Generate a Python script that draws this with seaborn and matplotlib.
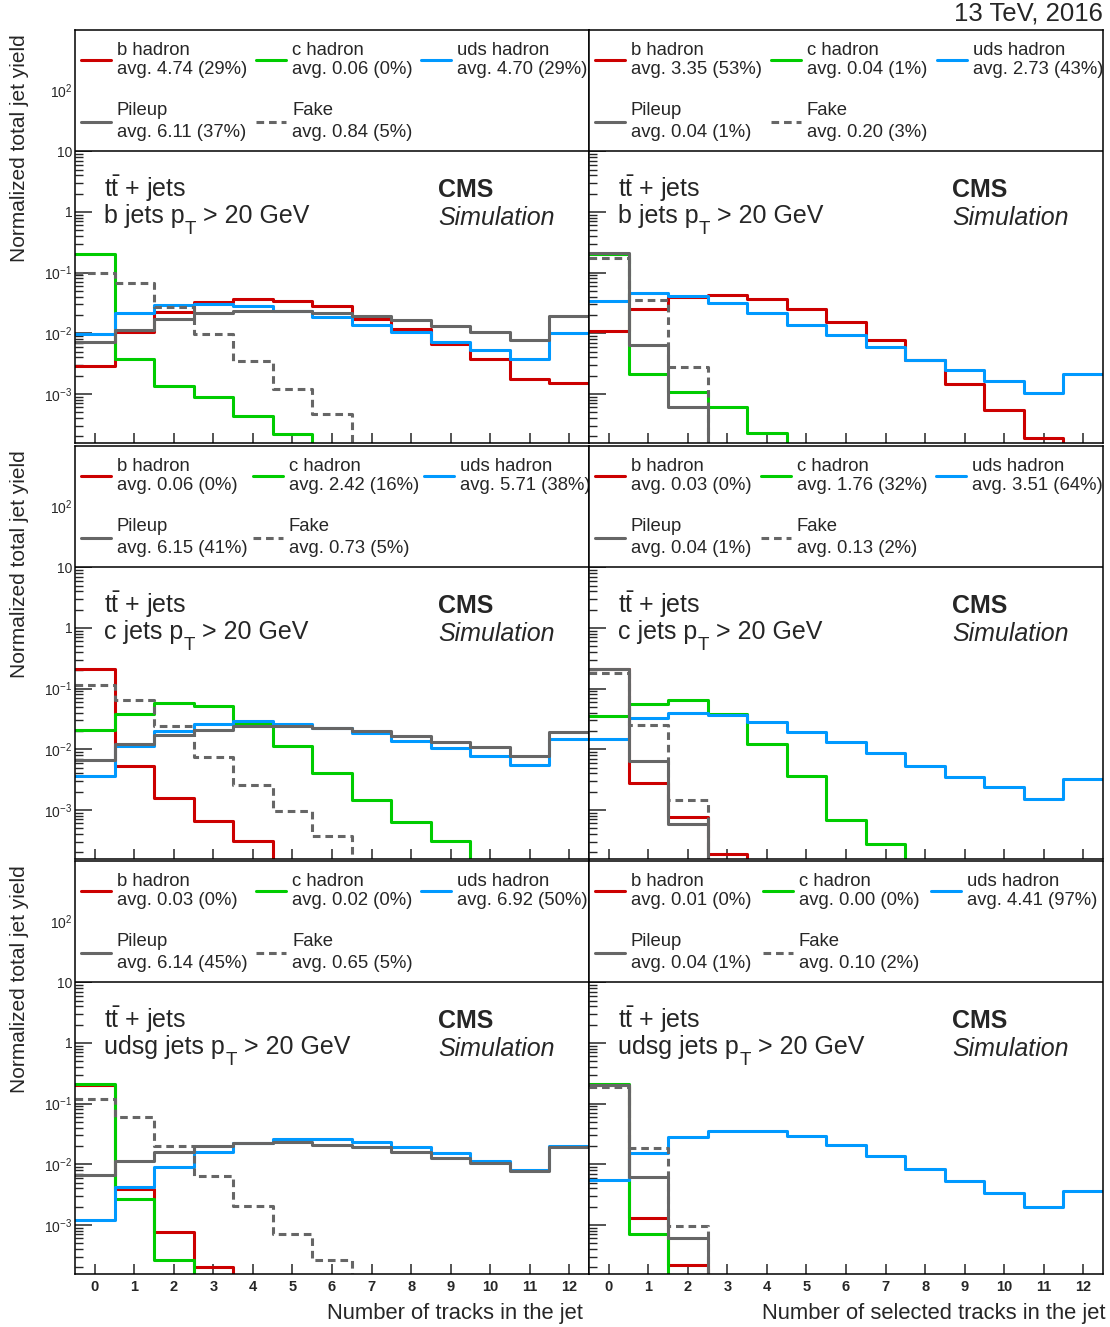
import numpy as np
import pandas as pd
import seaborn as sns
import matplotlib.pyplot as plt
from matplotlib.ticker import FixedLocator, LogLocator, NullFormatter, FuncFormatter

sns.set_theme(style="ticks")
plt.rcParams['font.family'] = ['Liberation Sans', 'DejaVu Sans']
plt.rcParams['mathtext.fontset'] = 'custom'
plt.rcParams['mathtext.rm'] = 'Liberation Sans'
plt.rcParams['mathtext.it'] = 'Liberation Sans:italic'
plt.rcParams['mathtext.bf'] = 'Liberation Sans:bold'

n_tracks = list(range(13))
bin_edges = [i - 0.5 for i in range(14)]

# ---- b jets, all tracks
bjet_all_b = [2.9e-3, 0.0106, 0.0221, 0.0322, 0.0366, 0.0339, 0.028, 0.0172, 0.0118, 6.7e-3, 3.7e-3, 1.78e-3, 1.51e-3]
bjet_all_c = [0.2, 3.8e-3, 1.35e-3, 8.9e-4, 4.4e-4, 2.2e-4, 0, 0, 0, 0, 0, 0, 0]
bjet_all_uds = [9.8e-3, 0.0215, 0.0295, 0.0299, 0.0284, 0.0232, 0.0183, 0.0139, 0.0104, 7.3e-3, 5.2e-3, 3.8e-3, 0.01]
bjet_all_pu = [7.1e-3, 0.0114, 0.0172, 0.0213, 0.023, 0.0236, 0.0216, 0.019, 0.0163, 0.0134, 0.0105, 7.8e-3, 0.019]
bjet_all_fake = [0.1, 0.0686, 0.0267, 9.8e-3, 3.5e-3, 1.22e-3, 4.6e-4, 0, 0, 0, 0, 0, 0]
bjet_all_avg = ["avg. 4.74 (29%)", "avg. 0.06 (0%)", "avg. 4.70 (29%)", "avg. 6.11 (37%)", "avg. 0.84 (5%)"]

# ---- b jets, selected tracks
bjet_sel_b = [0.011, 0.0251, 0.0389, 0.043, 0.0366, 0.0251, 0.0155, 7.6e-3, 3.66e-3, 1.44e-3, 5.5e-4, 1.85e-4, 0]
bjet_sel_c = [0.205, 2.13e-3, 1.08e-3, 6.1e-4, 2.24e-4, 0, 0, 0, 0, 0, 0, 0, 0]
bjet_sel_uds = [0.0335, 0.0458, 0.041, 0.031, 0.0213, 0.0137, 9.2e-3, 5.9e-3, 3.66e-3, 2.5e-3, 1.63e-3, 1.04e-3, 2.1e-3]
bjet_sel_pu = [0.207, 6.3e-3, 6.1e-4, 0, 0, 0, 0, 0, 0, 0, 0, 0, 0]
bjet_sel_fake = [0.172, 0.0356, 2.77e-3, 0, 0, 0, 0, 0, 0, 0, 0, 0, 0]
bjet_sel_avg = ["avg. 3.35 (53%)", "avg. 0.04 (1%)", "avg. 2.73 (43%)", "avg. 0.04 (1%)", "avg. 0.20 (3%)"]

# ---- c jets, all tracks
cjet_all_b = [0.209, 5.2e-3, 1.6e-3, 6.6e-4, 3.1e-4, 0, 0, 0, 0, 0, 0, 0, 0]
cjet_all_c = [0.0209, 0.0385, 0.0578, 0.0516, 0.0257, 0.0115, 4.05e-3, 1.45e-3, 6.2e-4, 3.06e-4, 0, 0, 0]
cjet_all_uds = [3.66e-3, 0.0115, 0.0199, 0.0263, 0.0288, 0.0263, 0.0223, 0.0187, 0.0139, 0.0104, 7.85e-3, 5.4e-3, 0.0145]
cjet_all_pu = [6.65e-3, 0.0122, 0.0173, 0.0204, 0.0238, 0.0238, 0.0223, 0.0199, 0.0164, 0.0134, 0.0108, 7.85e-3, 0.0191]
cjet_all_fake = [0.116, 0.064, 0.024, 7.55e-3, 2.6e-3, 9.6e-4, 3.7e-4, 0, 0, 0, 0, 0, 0]
cjet_all_avg = ["avg. 0.06 (0%)", "avg. 2.42 (16%)", "avg. 5.71 (38%)", "avg. 6.15 (41%)", "avg. 0.73 (5%)"]

# ---- c jets, selected tracks
cjet_sel_b = [0.214, 2.73e-3, 7.5e-4, 1.84e-4, 0, 0, 0, 0, 0, 0, 0, 0, 0]
cjet_sel_c = [0.0356, 0.0564, 0.064, 0.038, 0.0124, 3.57e-3, 6.8e-4, 2.77e-4, 0, 0, 0, 0, 0]
cjet_sel_uds = [0.0148, 0.033, 0.04, 0.037, 0.0284, 0.0194, 0.0134, 8.6e-3, 5.36e-3, 3.43e-3, 2.35e-3, 1.54e-3, 3.22e-3]
cjet_sel_pu = [0.214, 6.3e-3, 5.8e-4, 0, 0, 0, 0, 0, 0, 0, 0, 0, 0]
cjet_sel_fake = [0.184, 0.025, 1.45e-3, 0, 0, 0, 0, 0, 0, 0, 0, 0, 0]
cjet_sel_avg = ["avg. 0.03 (0%)", "avg. 1.76 (32%)", "avg. 3.51 (64%)", "avg. 0.04 (1%)", "avg. 0.13 (2%)"]

# ---- udsg jets, all tracks
ljet_all_b = [0.2, 3.85e-3, 7.65e-4, 2.0e-4, 0, 0, 0, 0, 0, 0, 0, 0, 0]
ljet_all_c = [0.207, 2.66e-3, 2.6e-4, 0, 0, 0, 0, 0, 0, 0, 0, 0, 0]
ljet_all_uds = [1.19e-3, 4.16e-3, 9.15e-3, 0.0158, 0.0223, 0.0259, 0.0263, 0.0232, 0.0194, 0.0152, 0.0111, 7.96e-3, 0.0201]
ljet_all_pu = [6.65e-3, 0.0114, 0.0162, 0.0201, 0.0223, 0.0229, 0.0209, 0.0189, 0.0158, 0.0129, 0.0103, 7.85e-3, 0.0189]
ljet_all_fake = [0.119, 0.0593, 0.0201, 6.4e-3, 2.07e-3, 7.2e-4, 2.6e-4, 0, 0, 0, 0, 0, 0]
ljet_all_avg = ["avg. 0.03 (0%)", "avg. 0.02 (0%)", "avg. 6.92 (50%)", "avg. 6.14 (45%)", "avg. 0.65 (5%)"]

# ---- udsg jets, selected tracks
ljet_sel_b = [0.2, 1.31e-3, 2.2e-4, 0, 0, 0, 0, 0, 0, 0, 0, 0, 0]
ljet_sel_c = [0.207, 7.0e-4, 0, 0, 0, 0, 0, 0, 0, 0, 0, 0, 0]
ljet_sel_uds = [5.5e-3, 0.0156, 0.0284, 0.0356, 0.0356, 0.0288, 0.0204, 0.0137, 8.4e-3, 5.2e-3, 3.3e-3, 1.94e-3, 3.66e-3]
ljet_sel_pu = [0.2, 6.25e-3, 6.1e-4, 0, 0, 0, 0, 0, 0, 0, 0, 0, 0]
ljet_sel_fake = [0.187, 0.0184, 9.6e-4, 0, 0, 0, 0, 0, 0, 0, 0, 0, 0]
ljet_sel_avg = ["avg. 0.01 (0%)", "avg. 0.00 (0%)", "avg. 4.41 (97%)", "avg. 0.04 (1%)", "avg. 0.10 (2%)"]

sources = ["b hadron", "c hadron", "uds hadron", "Pileup", "Fake"]
colors = ["#cc0000", "#00cc00", "#0099ff", "#666666", "#666666"]

panels = [
    (0, 0, "b", [bjet_all_b, bjet_all_c, bjet_all_uds, bjet_all_pu, bjet_all_fake], bjet_all_avg, [42, 217, 382]),
    (0, 1, "b", [bjet_sel_b, bjet_sel_c, bjet_sel_uds, bjet_sel_pu, bjet_sel_fake], bjet_sel_avg, [42, 218, 384]),
    (1, 0, "c", [cjet_all_b, cjet_all_c, cjet_all_uds, cjet_all_pu, cjet_all_fake], cjet_all_avg, [42, 214, 385]),
    (1, 1, "c", [cjet_sel_b, cjet_sel_c, cjet_sel_uds, cjet_sel_pu, cjet_sel_fake], cjet_sel_avg, [42, 208, 383]),
    (2, 0, "udsg", [ljet_all_b, ljet_all_c, ljet_all_uds, ljet_all_pu, ljet_all_fake], ljet_all_avg, [42, 217, 382]),
    (2, 1, "udsg", [ljet_sel_b, ljet_sel_c, ljet_sel_uds, ljet_sel_pu, ljet_sel_fake], ljet_sel_avg, [42, 210, 378]),
]

W, H = 1110, 1327
fig = plt.figure(figsize=(W / 100, H / 100), dpi=100)
row_tops = [30, 446, 861]
col_lefts = [75, 589]
pw, ph = 514, 413
ylo, yhi = 1.55e-4, 1000


def ylab(v, pos):
    e = int(round(np.log10(v)))
    if e == 0:
        return "1"
    if e == 1:
        return "10"
    return r"$10^{%d}$" % e


for row, col, flav, series, avgs, colx in panels:
    x0, y0 = col_lefts[col], row_tops[row]
    ax = fig.add_axes([x0 / W, 1 - (y0 + ph) / H, pw / W, ph / H])
    ax.set_facecolor("white")

    for vals, c, name in zip(series, colors, sources):
        df = pd.DataFrame({"ntrk": n_tracks, "yield": vals})
        kw = dict(color=c, linewidth=2.2)
        if name == "Fake":
            kw["dashes"] = (2.5, 1.6)
        sns.histplot(data=df, x="ntrk", weights="yield", bins=bin_edges, element="step",
                     fill=False, ax=ax, **kw)

    ax.set_yscale("log")
    ax.set_ylim(ylo, yhi)
    ax.set_xlim(-0.5, 12.5)
    ax.set_xlabel("")
    ax.set_ylabel("")

    ax.yaxis.set_major_locator(FixedLocator([1e-3, 1e-2, 1e-1, 1, 10, 100]))
    ax.yaxis.set_minor_locator(LogLocator(base=10, subs=np.arange(2, 10), numticks=20))
    ax.yaxis.set_minor_formatter(NullFormatter())
    ax.yaxis.set_major_formatter(FuncFormatter(ylab))
    ax.set_xticks(n_tracks)
    ax.tick_params(axis="y", which="major", direction="in", length=12.5, width=1.1,
                   labelsize=10, pad=2, left=True, right=False, labelleft=(col == 0))
    ax.tick_params(axis="y", which="minor", direction="in", length=6, width=1.0)
    ax.tick_params(axis="x", which="major", direction="in", length=7, width=1.1,
                   labelsize=10.5, pad=4, labelbottom=(row == 2), top=False)
    for lab in ax.get_xticklabels():
        lab.set_fontweight("bold")
        lab.set_family(["Liberation Sans Narrow", "Liberation Sans"])
    ax.xaxis.set_minor_locator(FixedLocator([]))
    for s in ax.spines.values():
        s.set_visible(True)
        s.set_color("black")
        s.set_linewidth(1.1)
        s.set_zorder(5)

    # legend box on top of the upper part of the axis
    ax.axhspan(10, yhi, facecolor="white", edgecolor="none", zorder=3)
    ax.axhline(10, color="black", linewidth=1.1, zorder=5)

    line_rows = [(0.9274, 0.9395, 0.8935), (0.777, 0.794, 0.741)]
    slots = [(0, 0), (0, 1), (0, 2), (1, 0), (1, 1)]
    for i, (r, cc) in enumerate(slots):
        ly, ty1, ty2 = line_rows[r]
        tx = colx[cc] / pw
        lkw = dict(color=colors[i], linewidth=2.2, zorder=6)
        if sources[i] == "Fake":
            lkw["dashes"] = (2.5, 1.6)
        ax.plot([tx - 36 / pw, tx - 6 / pw], [ly, ly], transform=ax.transAxes, **lkw)
        ax.text(tx, ty1, sources[i], transform=ax.transAxes, fontsize=13.3,
                va="baseline", ha="left", zorder=6, clip_on=True)
        ax.text(tx, ty2, avgs[i], transform=ax.transAxes, fontsize=13.3,
                va="baseline", ha="left", zorder=6, clip_on=True)

    ax.text(0.056, 0.5956, r"t$\bar{\mathrm{t}}$ + jets", transform=ax.transAxes,
            fontsize=18, va="baseline", zorder=6)
    # ROOT-like low subscript: p, then T below the baseline, then the rest
    t1 = ax.text(0.056, 0.533, flav + " jets p", transform=ax.transAxes,
                 fontsize=18, va="baseline", zorder=6)
    t2 = ax.annotate("T", xy=(1, 0), xycoords=t1, xytext=(0.5, 4.8),
                     textcoords="offset points", fontsize=13.5, va="top", ha="left", zorder=6)
    ax.annotate(" > 20 GeV", xy=(1, 0), xycoords=(t2, t1), xytext=(0, 0),
                textcoords="offset points", fontsize=18, va="bottom", ha="left", zorder=6)
    ax.text(0.707, 0.5956, "CMS", transform=ax.transAxes, fontsize=18,
            fontweight="bold", va="baseline", zorder=6)
    ax.text(0.707, 0.528, "Simulation", transform=ax.transAxes, fontsize=18,
            fontstyle="italic", va="baseline", zorder=6)

for y0 in row_tops:
    fig.text(20 / W, 1 - (y0 + 4) / H, "Normalized total jet yield",
             rotation=90, ha="center", va="top", fontsize=15)

fig.text(1103 / W, 1 - 14 / H, "13 TeV, 2016", ha="right", va="center", fontsize=18.5)
fig.text(583 / W, 1 - 1313 / H, "Number of tracks in the jet", ha="right",
         va="center", fontsize=15.8)
fig.text(1105 / W, 1 - 1313 / H, "Number of selected tracks in the jet", ha="right",
         va="center", fontsize=15.8)

fig.savefig("out.png", dpi=100)
